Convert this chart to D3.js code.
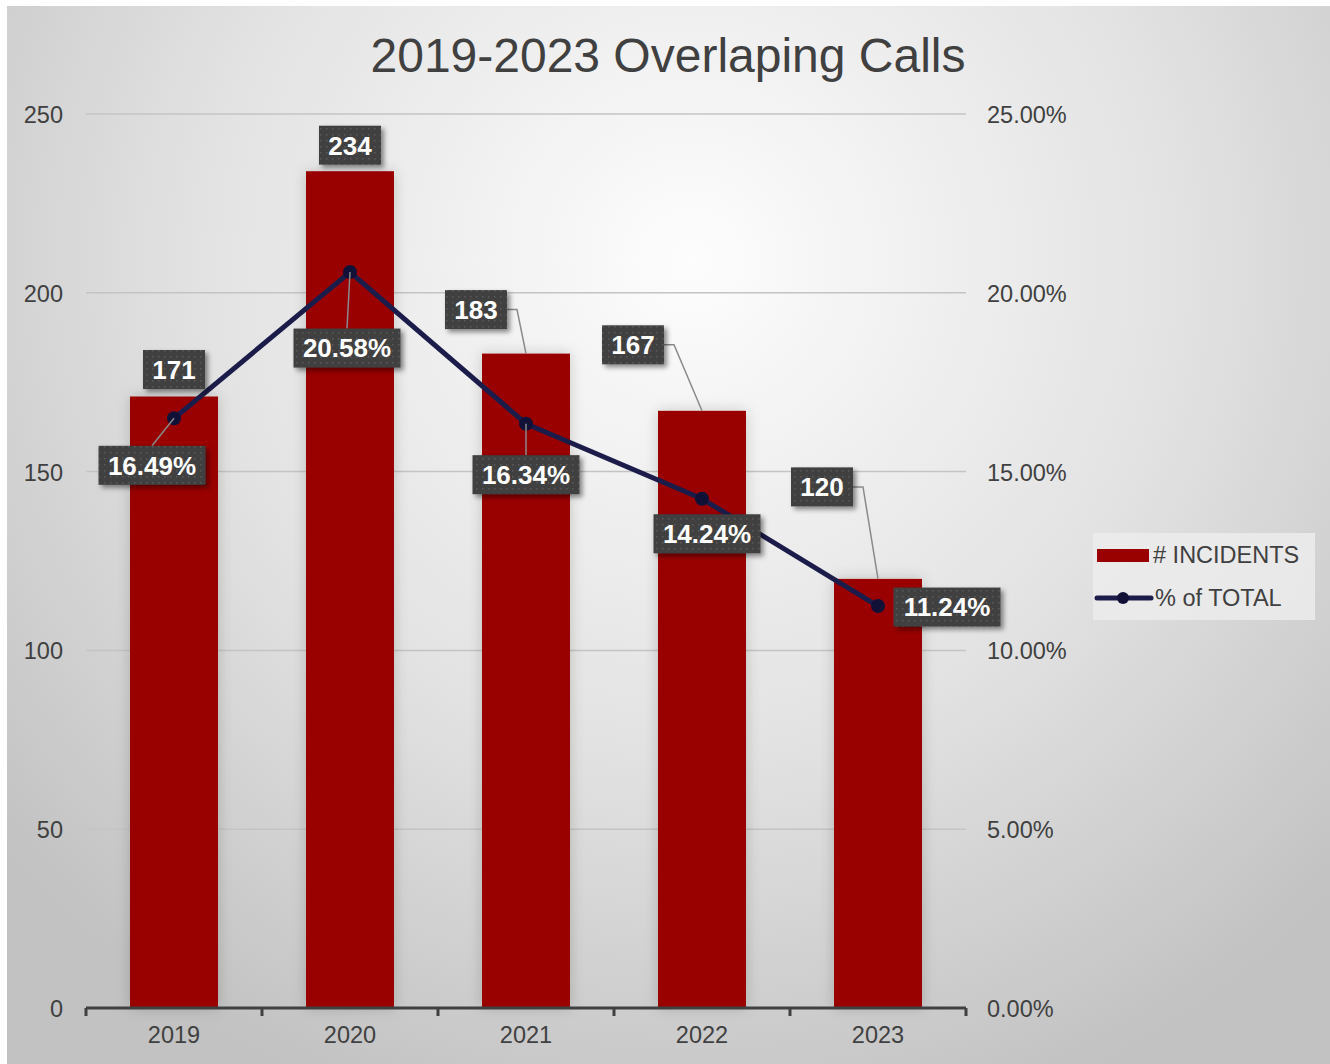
<!DOCTYPE html>
<html>
  <head>
    <meta charset="UTF-8">
    <title>2019-2023 Overlaping Calls</title>
    <style>
      body {margin: 0; background: #ffffff;}
      svg {display: block;}
      text {font-family: "Liberation Sans", Arial, sans-serif;}
      .tick text {fill: #404040; font-size: 23.5px;}
      .lbl {fill: #ffffff; font-size: 26px; font-weight: bold; text-anchor: middle;}
      .leg {fill: #404040; font-size: 23.5px;}
    </style>
  </head>
  <body>
    <div id="chart"></div>
    <script src="https://d3js.org/d3.v7.min.js"></script>
    <script>

const years = ["2019", "2020", "2021", "2022", "2023"];
const incidents = [171, 234, 183, 167, 120];
const pctTotal = [16.49, 20.58, 16.34, 14.24, 11.24];
const leftTicks = [0, 50, 100, 150, 200, 250];
const rightTicks = [0, 5, 10, 15, 20, 25];
const seriesNames = ["# INCIDENTS", "% of TOTAL"];

// where the data labels sit, relative to their anchor (px)
const barLabelOffset = [[0, -27], [0, -26], [-50, -44], [-69, -66], [-56, -92]];
const pctLabelOffset = [[-22, 47], [-3, 76], [0, 51], [5, 35], [69, 1]];

const width = 1330, height = 1064;
const m = {left: 86, right: 966, top: 114, bottom: 1008};

const svg = d3.select("#chart").append("svg")
  .attr("width", width).attr("height", height);

const defs = svg.append("defs");
const bg = defs.append("radialGradient").attr("id", "bg")
  .attr("gradientUnits", "userSpaceOnUse")
  .attr("cx", 690).attr("cy", 260).attr("r", 900);
bg.append("stop").attr("offset", "0%").attr("stop-color", "#fdfdfd");
bg.append("stop").attr("offset", "55%").attr("stop-color", "#e2e2e2");
bg.append("stop").attr("offset", "100%").attr("stop-color", "#c2c2c2");

const dots = defs.append("pattern").attr("id", "dots")
  .attr("patternUnits", "userSpaceOnUse").attr("width", 6).attr("height", 6);
dots.append("rect").attr("width", 6).attr("height", 6).attr("fill", "#3f3f3f");
dots.append("rect").attr("x", 2).attr("y", 2).attr("width", 1.5).attr("height", 1.5).attr("fill", "#5a5a5a");

const boxShadow = defs.append("filter").attr("id", "boxShadow")
  .attr("x", "-20%").attr("y", "-30%").attr("width", "150%").attr("height", "180%");
boxShadow.append("feDropShadow").attr("dx", 3).attr("dy", 3).attr("stdDeviation", 2.5)
  .attr("flood-color", "#000").attr("flood-opacity", 0.45);

const barShadow = defs.append("filter").attr("id", "barShadow")
  .attr("x", "-40%").attr("y", "-10%").attr("width", "180%").attr("height", "120%");
barShadow.append("feDropShadow").attr("dx", 0).attr("dy", 0).attr("stdDeviation", 7)
  .attr("flood-color", "#000").attr("flood-opacity", 0.18);

svg.append("rect").attr("x", 7).attr("y", 6).attr("width", width - 7).attr("height", height - 6)
  .attr("fill", "url(#bg)");

svg.append("text")
  .attr("x", 668).attr("y", 72)
  .attr("text-anchor", "middle")
  .attr("fill", "#404040")
  .style("font-size", "48px")
  .text("2019-2023 Overlaping Calls");

const x = d3.scaleBand().domain(years).range([m.left, m.right]).paddingInner(0).paddingOuter(0);
const yL = d3.scaleLinear().domain([0, 250]).range([m.bottom, m.top]);
const yR = d3.scaleLinear().domain([0, 25]).range([m.bottom, m.top]);

// gridlines
svg.append("g").selectAll("line").data(leftTicks.slice(1)).join("line")
  .attr("x1", m.left).attr("x2", m.right)
  .attr("y1", d => yL(d)).attr("y2", d => yL(d))
  .attr("stroke", "#c4c4c4").attr("stroke-width", 1.5);

// left axis
const gL = svg.append("g").attr("transform", "translate(63,0)")
  .call(d3.axisLeft(yL).tickValues(leftTicks).tickSize(0).tickPadding(0));
gL.select(".domain").remove();
gL.selectAll(".tick text").attr("dy", "0.36em");

// right axis
const gR = svg.append("g").attr("transform", "translate(987,0)")
  .call(d3.axisRight(yR).tickValues(rightTicks).tickSize(0).tickPadding(0)
    .tickFormat(d => d.toFixed(2) + "%"));
gR.select(".domain").remove();
gR.selectAll(".tick text").attr("dy", "0.36em");

// bars
const bw = x.bandwidth() * 0.5;
svg.append("g").attr("filter", "url(#barShadow)")
  .selectAll("rect").data(incidents).join("rect")
  .attr("x", (d, i) => x(years[i]) + x.bandwidth() / 2 - bw / 2)
  .attr("width", bw)
  .attr("y", d => yL(d))
  .attr("height", d => m.bottom - yL(d))
  .attr("fill", "#990000");

// bottom axis
const gB = svg.append("g").attr("transform", `translate(0,${m.bottom})`)
  .call(d3.axisBottom(x).tickSize(0).tickPadding(18));
gB.select(".domain").remove();
gB.selectAll(".tick text").attr("dy", "0.71em");
const bounds = years.map(y => x(y)).concat([m.right]);
gB.append("line").attr("x1", m.left).attr("x2", m.right)
  .attr("stroke", "#404040").attr("stroke-width", 3);
gB.selectAll(".btick").data(bounds).join("line").attr("class", "btick")
  .attr("x1", d => d).attr("x2", d => d).attr("y1", 0).attr("y2", 8)
  .attr("stroke", "#404040").attr("stroke-width", 3);

// line series
const cx = i => x(years[i]) + x.bandwidth() / 2;
svg.append("path").datum(pctTotal)
  .attr("d", d3.line().x((d, i) => cx(i)).y(d => yR(d)))
  .attr("fill", "none").attr("stroke", "#1c1c4a").attr("stroke-width", 5)
  .attr("stroke-linejoin", "round");
svg.append("g").selectAll("circle").data(pctTotal).join("circle")
  .attr("cx", (d, i) => cx(i)).attr("cy", d => yR(d)).attr("r", 7)
  .attr("fill", "#111138");

// data labels
function addLabel(g, ax, ay, off, txt, w) {
  const bx = ax + off[0], by = ay + off[1];
  const h = 39;
  const left = bx - w / 2, right = bx + w / 2, top = by - h / 2, bottom = by + h / 2;
  const gx = Math.max(left - ax, 0, ax - right);
  const gy = Math.max(top - ay, 0, ay - bottom);
  if (Math.hypot(gx, gy) > 20) {
    let pts;
    if (ax > right + 10) {
      pts = [[right, by], [right + 10, by], [ax, ay]];
    } else if (ay < top) {
      pts = [[ax, ay], [bx, top]];
    } else {
      pts = [[ax, ay], [bx, bottom]];
    }
    g.append("path").attr("d", d3.line()(pts))
      .attr("fill", "none").attr("stroke", "#8a8a8a").attr("stroke-width", 1.5);
  }
  g.append("rect").attr("x", left).attr("y", top).attr("width", w).attr("height", h)
    .attr("fill", "url(#dots)").attr("filter", "url(#boxShadow)");
  g.append("text").attr("class", "lbl").attr("x", bx).attr("y", by).attr("dy", "0.36em").text(txt);
}

const labels = svg.append("g");
incidents.forEach((v, i) => addLabel(labels, cx(i), yL(v), barLabelOffset[i], String(v), 62));
pctTotal.forEach((v, i) => addLabel(labels, cx(i), yR(v), pctLabelOffset[i], v.toFixed(2) + "%", 107));

// legend
const leg = svg.append("g");
leg.append("rect").attr("x", 1093).attr("y", 533).attr("width", 222).attr("height", 87)
  .attr("fill", "#ececec").attr("opacity", 0.85);
leg.append("rect").attr("x", 1097).attr("y", 549).attr("width", 52).attr("height", 13).attr("fill", "#990000");
leg.append("text").attr("class", "leg").attr("x", 1153).attr("y", 563).text(seriesNames[0]);
leg.append("line").attr("x1", 1097).attr("x2", 1151).attr("y1", 598).attr("y2", 598)
  .attr("stroke", "#1c1c4a").attr("stroke-width", 5).attr("stroke-linecap", "round");
leg.append("circle").attr("cx", 1123).attr("cy", 598).attr("r", 6).attr("fill", "#111138");
leg.append("text").attr("class", "leg").attr("x", 1155).attr("y", 606).text(seriesNames[1]);

 </script>
  </body>
</html>
